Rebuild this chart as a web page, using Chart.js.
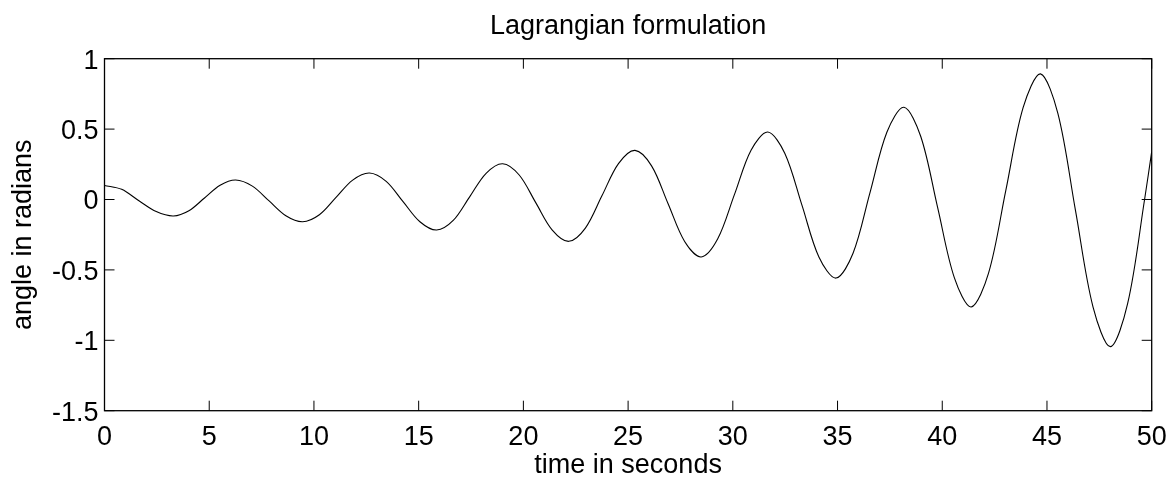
<!DOCTYPE html>
<html lang="en">
<head>
    <meta charset="UTF-8">
    <title>Lagrangian formulation</title>
    <script src="https://cdn.jsdelivr.net/npm/chart.js"></script>
    <style>
        body { margin: 0; background: #fff; }
    </style>
</head>
<body>
    <canvas id="angleChart" width="1171" height="481"></canvas>

    <script>
        // time (s) and angle (rad): peaks, troughs, crossings and points between
        const times = [
            0, 0.82, 1.645, 2.47, 3.29, 4.03, 4.775, 5.52, 6.26, 7.06, 7.86, 8.66,
            9.46, 10.26, 11.055, 11.85, 12.65, 13.45, 14.255, 15.06, 15.86, 16.65, 17.435, 18.22,
            19.01, 19.80, 20.59, 21.38, 22.17, 22.96, 23.75, 24.54, 25.33, 26.12, 26.91, 27.70,
            28.49, 29.28, 30.08, 30.87, 31.67, 32.48, 33.30, 34.11, 34.93, 35.74, 36.55, 37.36,
            38.17, 38.97, 39.775, 40.58, 41.38, 42.21, 43.035, 43.86, 44.69, 45.52, 46.36, 47.20,
            48.03, 48.85, 49.66, 50
        ];
        const angles = [
            0.100, 0.072, -0.009, -0.086, -0.117, -0.080, 0.011, 0.101, 0.138, 0.095, -0.010, -0.115,
            -0.158, -0.108, 0.015, 0.138, 0.188, 0.129, -0.015, -0.158, -0.217, -0.149, 0.019, 0.186,
            0.254, 0.174, -0.022, -0.217, -0.297, -0.203, 0.026, 0.255, 0.349, 0.239, -0.030, -0.298,
            -0.408, -0.279, 0.036, 0.350, 0.479, 0.329, -0.040, -0.408, -0.558, -0.382, 0.049, 0.479,
            0.655, 0.449, -0.054, -0.557, -0.763, -0.523, 0.065, 0.652, 0.892, 0.611, -0.077, -0.764,
            -1.045, -0.740, 0.000, 0.340
        ];
        const xTicks = [0, 5, 10, 15, 20, 25, 30, 35, 40, 45, 50];
        const yTicks = [-1.5, -1, -0.5, 0, 0.5, 1];

        const font = { family: '"Liberation Sans", Arial, Helvetica, sans-serif', size: 27 };

        // box round the plot with inward ticks on all four sides
        const boxTicks = {
            id: 'boxTicks',
            afterDatasetsDraw(chart) {
                const { ctx, chartArea: a, scales: { x, y } } = chart;
                ctx.save();
                ctx.strokeStyle = '#000';
                ctx.lineWidth = 1;
                ctx.beginPath();
                x.ticks.forEach(t => {
                    const px = x.getPixelForValue(t.value);
                    ctx.moveTo(px, a.bottom); ctx.lineTo(px, a.bottom - 10);
                    ctx.moveTo(px, a.top); ctx.lineTo(px, a.top + 10);
                });
                y.ticks.forEach(t => {
                    const py = y.getPixelForValue(t.value);
                    ctx.moveTo(a.left, py); ctx.lineTo(a.left + 10, py);
                    ctx.moveTo(a.right, py); ctx.lineTo(a.right - 10, py);
                });
                ctx.stroke();
                ctx.lineWidth = 1.3;
                ctx.strokeRect(a.left, a.top, a.right - a.left, a.bottom - a.top);
                ctx.restore();
            }
        };

        const ctx = document.getElementById('angleChart').getContext('2d');
        const angleChart = new Chart(ctx, {
            type: 'line',
            data: {
                datasets: [{
                    label: 'angle',
                    data: times.map((t, i) => ({ x: t, y: angles[i] })),
                    borderColor: '#000',
                    borderWidth: 1.1,
                    pointRadius: 0,
                    fill: false,
                    tension: 0.33
                }]
            },
            options: {
                responsive: false,
                animation: false,
                devicePixelRatio: 1,
                layout: { padding: { left: 0, right: 19.3, top: 0, bottom: 0 } },
                plugins: {
                    legend: { display: false },
                    tooltip: { enabled: false },
                    title: {
                        display: true,
                        text: 'Lagrangian formulation',
                        color: '#000',
                        fullSize: false,
                        font: { ...font, weight: 'normal', lineHeight: 1.2 },
                        padding: { top: 10.3, bottom: 16 }
                    }
                },
                scales: {
                    x: {
                        type: 'linear',
                        min: 0,
                        max: 50,
                        afterBuildTicks: s => { s.ticks = xTicks.map(v => ({ value: v })); },
                        afterFit: s => { s.height = 70.3; s.paddingLeft = 0; s.paddingRight = 0; },
                        grid: { display: false, drawTicks: false },
                        border: { display: false },
                        ticks: { color: '#000', font, padding: 11, maxRotation: 0, callback: v => String(v) },
                        title: {
                            display: true,
                            text: 'time in seconds',
                            color: '#000',
                            font: { ...font, lineHeight: 1 },
                            padding: { top: 0, bottom: 1.5 }
                        }
                    },
                    y: {
                        min: -1.5,
                        max: 1,
                        afterBuildTicks: s => { s.ticks = yTicks.map(v => ({ value: v })); },
                        afterFit: s => { s.width = 104.5; s.paddingTop = 0; s.paddingBottom = 0; },
                        grid: { display: false, drawTicks: false },
                        border: { display: false },
                        ticks: { color: '#000', font, padding: 6, labelOffset: 2.5, callback: v => String(v) },
                        title: {
                            display: true,
                            text: 'angle in radians',
                            color: '#000',
                            font: { ...font, lineHeight: 1 },
                            padding: { top: 10.5, bottom: 0 }
                        }
                    }
                }
            },
            plugins: [boxTicks]
        });
    </script>
</body>
</html>
